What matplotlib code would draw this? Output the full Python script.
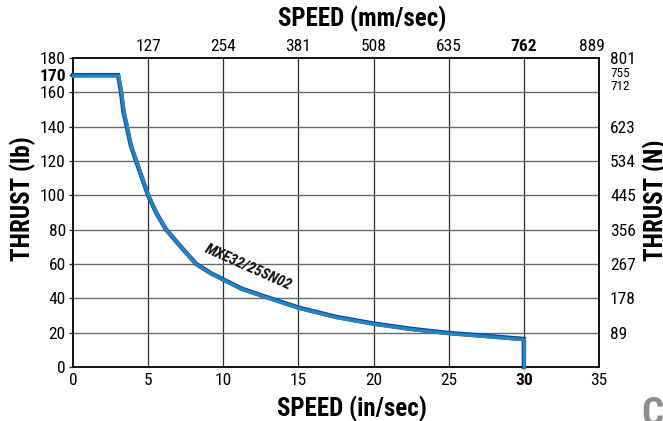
import matplotlib.pyplot as plt
from matplotlib import transforms, font_manager

# curve: speed (in/sec) vs thrust (lb)
speed = [0, 3.0, 3.1, 3.2, 3.36, 3.58, 3.85, 4.2, 4.6, 5.0, 5.56, 6.2, 7.18, 8.2, 9.2, 10.0,
         11.2, 12.5, 15.0, 17.5, 20.0, 22.5, 25.0, 27.5, 30.0, 30.0]
thrust = [170, 170, 165, 160, 148.7, 140, 129, 120, 110, 100, 89.4, 80, 70, 60, 54.5, 51,
          45.7, 41.8, 34.6, 29.2, 25.3, 22.2, 19.8, 18.1, 16.3, 0]

x_ticks = [0, 5, 10, 15, 20, 25, 30, 35]
y_ticks = [0, 20, 40, 60, 80, 100, 120, 140, 160, 170, 180]
mm_labels = ['127', '254', '381', '508', '635', '762', '889']
n_ticks = [20, 40, 60, 80, 100, 120, 140, 160, 170, 180]
n_labels = ['89', '178', '267', '356', '445', '534', '623', '712', '755', '801']
curve_name = 'MXE32/25SN02'


def wt(w):
    if isinstance(w, str):
        return {'bold': 700, 'heavy': 800, 'black': 900, 'semibold': 600, 'demibold': 600}.get(w, 400)
    return w


# narrow sans like the original: first installed family that also has a bold face
bold_ok = {f.name for f in font_manager.fontManager.ttflist if wt(f.weight) >= 700 and f.style == 'normal'}
narrow = next((n for n in ['Nimbus Sans Narrow', 'Liberation Sans Narrow', 'Arial Narrow',
                           'Archivo Narrow', 'Roboto Condensed', 'Fira Sans Condensed',
                           'IBM Plex Sans Condensed', 'Barlow Semi Condensed', 'Asap Condensed',
                           'Liberation Sans']
               if n in bold_ok), 'DejaVu Sans')
plt.rcParams['font.family'] = [narrow, 'DejaVu Sans']

W, H = 663, 421
fig = plt.figure(figsize=(W / 100, H / 100), dpi=100)
L, R, T, B = 73, 599, 58, 367
ax = fig.add_axes([L / W, 1 - B / H, (R - L) / W, (B - T) / H])

ax.set_xlim(0, 35)
ax.set_ylim(0, 180)

# grid
for xv in x_ticks[1:-1]:
    ax.axvline(xv, color='#2e2e2e', lw=0.9, zorder=1)
for yv in [20, 40, 60, 80, 100, 120, 140, 160]:
    ax.axhline(yv, color='#6a6a6a', lw=1.0, zorder=1)

# curve: dark edge with blue body slightly below it
shift = transforms.offset_copy(ax.transData, fig=fig, x=0.4, y=-0.5, units='points')
ax.plot(speed, thrust, color='#2b3990', lw=3.2, solid_joinstyle='miter', zorder=3, clip_on=False)
ax.plot(speed, thrust, color='#1b87c3', lw=2.4, solid_joinstyle='miter', zorder=4,
        transform=shift, clip_on=False)

ax.text(11.65, 58.5, curve_name, rotation=-24, fontsize=11, fontweight='bold', style='italic',
        ha='center', va='center', color='#111111', zorder=5)

for s in ax.spines.values():
    s.set_linewidth(1.4)
    s.set_color('#111111')

# bottom / left ticks
ax.set_xticks(x_ticks)
ax.set_xticklabels([str(v) for v in x_ticks])
ax.set_yticks(y_ticks)
ax.set_yticklabels([str(v) for v in y_ticks])
ax.tick_params(axis='x', length=0, labelsize=12.5, pad=4)
ax.tick_params(axis='y', length=3.2, width=0.9, color='#222222', labelsize=12.5, pad=2)
ax.get_xticklabels()[6].set_fontweight('bold')
ax.get_yticklabels()[9].set_fontweight('bold')

# top axis (mm/sec)
top = ax.twiny()
top.set_xlim(ax.get_xlim())
top.set_xticks(x_ticks[1:])
top.set_xticklabels(mm_labels)
top.tick_params(axis='x', length=0, labelsize=12.5, pad=3)
top.get_xticklabels()[5].set_fontweight('bold')
lbl = top.get_xticklabels()[6]
lbl.set_transform(lbl.get_transform() + transforms.ScaledTranslation(-0.07, 0, fig.dpi_scale_trans))
for s in top.spines.values():
    s.set_visible(False)

# right axis (N)
right = ax.twinx()
right.set_ylim(ax.get_ylim())
right.set_yticks(n_ticks)
right.set_yticklabels(n_labels)
right.tick_params(axis='y', length=0, labelsize=12.5, pad=8)
n712, n755 = right.get_yticklabels()[7], right.get_yticklabels()[8]
for t in (n712, n755):
    t.set_fontsize(9.5)
n755.set_transform(n755.get_transform() + transforms.ScaledTranslation(0, 0.035, fig.dpi_scale_trans))
n712.set_transform(n712.get_transform() + transforms.ScaledTranslation(0, 0.075, fig.dpi_scale_trans))
for s in right.spines.values():
    s.set_visible(False)

# axis titles
fig.text(362 / W, 1 - 19 / H, 'SPEED (mm/sec)', fontsize=18, fontweight='bold', ha='center', va='center')
fig.text(352 / W, 1 - 409 / H, 'SPEED (in/sec)', fontsize=18, fontweight='bold', ha='center', va='center')
fig.text(23 / W, 1 - 199 / H, 'THRUST (lb)', fontsize=18, fontweight='bold', rotation=90,
         ha='center', va='center')
fig.text(656 / W, 1 - 200 / H, 'THRUST (N)', fontsize=18, fontweight='bold', rotation=90,
         ha='center', va='center')

# logo fragment in the corner
fig.text(641 / W, 1 - 396 / H, 'C', fontsize=28, fontweight='bold', color='#8e8e8e', ha='left', va='top')

fig.savefig('out.png', dpi=100)
